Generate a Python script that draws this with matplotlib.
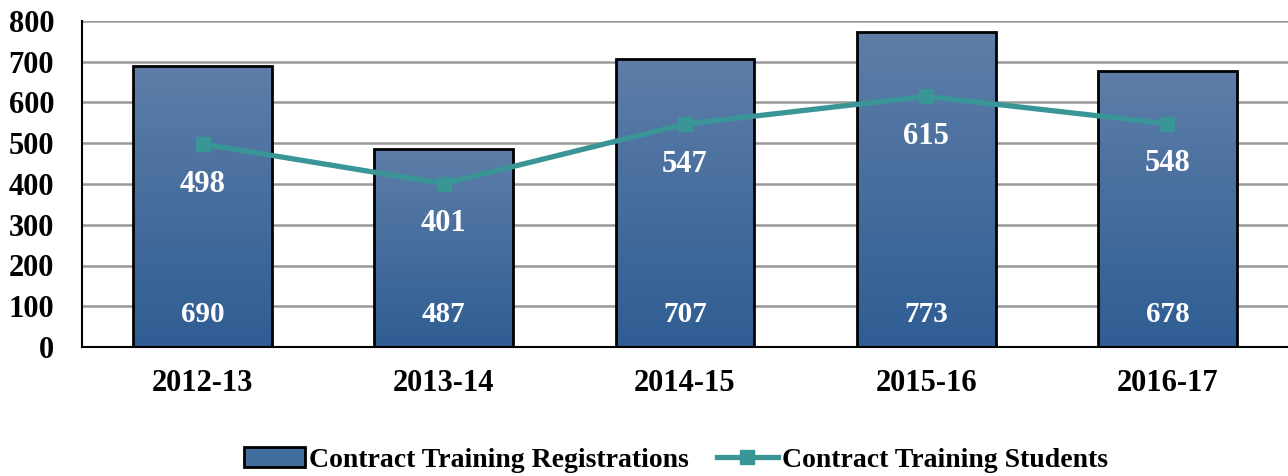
import matplotlib.pyplot as plt
import numpy as np
from matplotlib.colors import LinearSegmentedColormap
from matplotlib.lines import Line2D
from matplotlib.patches import Patch

years = ["2012-13", "2013-14", "2014-15", "2015-16", "2016-17"]
registrations = [690, 487, 707, 773, 678]
students = [498, 401, 547, 615, 548]

plt.rcParams["font.family"] = ["Liberation Serif", "DejaVu Serif"]

fig = plt.figure(figsize=(12.88, 4.76), dpi=100)
ax = fig.add_axes([82 / 1288, 1 - 347 / 476, 1 - 82 / 1288, (347 - 21) / 476])

x = np.arange(len(years))
bars = ax.bar(x, registrations, width=0.575, facecolor="none", edgecolor="black",
              linewidth=2, zorder=3)

# gradient fill for the bars
cmap = LinearSegmentedColormap.from_list("bluegrad", ["#2F5D93", "#5E7EA8"])
grad = np.linspace(0, 1, 256).reshape(-1, 1)
for b in bars:
    im = ax.imshow(grad, cmap=cmap, origin="lower", aspect="auto",
                   extent=[b.get_x(), b.get_x() + b.get_width(), 0, b.get_height()],
                   zorder=2)
    im.set_clip_path(b)

ax.plot(x, students, color="#3A9597", linewidth=3.8, marker="s", markersize=10,
        zorder=4)

for i in range(len(years)):
    ax.text(x[i], 80, str(registrations[i]), color="white", ha="center", va="center",
            fontsize=21, fontweight="bold", zorder=5)
    ax.annotate(str(students[i]), (x[i], students[i]), xytext=(0, -29),
                textcoords="offset points", color="white", ha="center", va="center",
                fontsize=22, fontweight="bold", zorder=5)

ax.set_xlim(-0.5, len(years) - 0.5)
ax.set_ylim(0, 800)
ax.set_yticks(range(0, 801, 100))
ax.set_xticks(x)
ax.set_xticklabels(years)
ax.yaxis.grid(True, color="#999999", linewidth=1.8, zorder=0)
ax.set_axisbelow(True)
for side in ["top", "right"]:
    ax.spines[side].set_visible(False)
ax.spines["left"].set_linewidth(1.5)
ax.spines["bottom"].set_linewidth(1.5)
ax.tick_params(axis="both", length=0, labelsize=22)
ax.tick_params(axis="x", pad=16)
ax.tick_params(axis="y", pad=20)
for lab in ax.get_xticklabels() + ax.get_yticklabels():
    lab.set_fontweight("bold")

handles = [Patch(facecolor="#426E9E", edgecolor="black", linewidth=2),
           Line2D([0], [0], color="#3A9597", linewidth=3.8, marker="s", markersize=10)]
fig.legend(handles, ["Contract Training Registrations", "Contract Training Students"],
           loc="center", bbox_to_anchor=(676 / 1288, 1 - 460 / 476), ncol=2,
           frameon=False, prop={"size": 20, "weight": "bold"},
           handlelength=2.2, handletextpad=0.15, columnspacing=1.0)

fig.savefig("out.png", dpi=100)
